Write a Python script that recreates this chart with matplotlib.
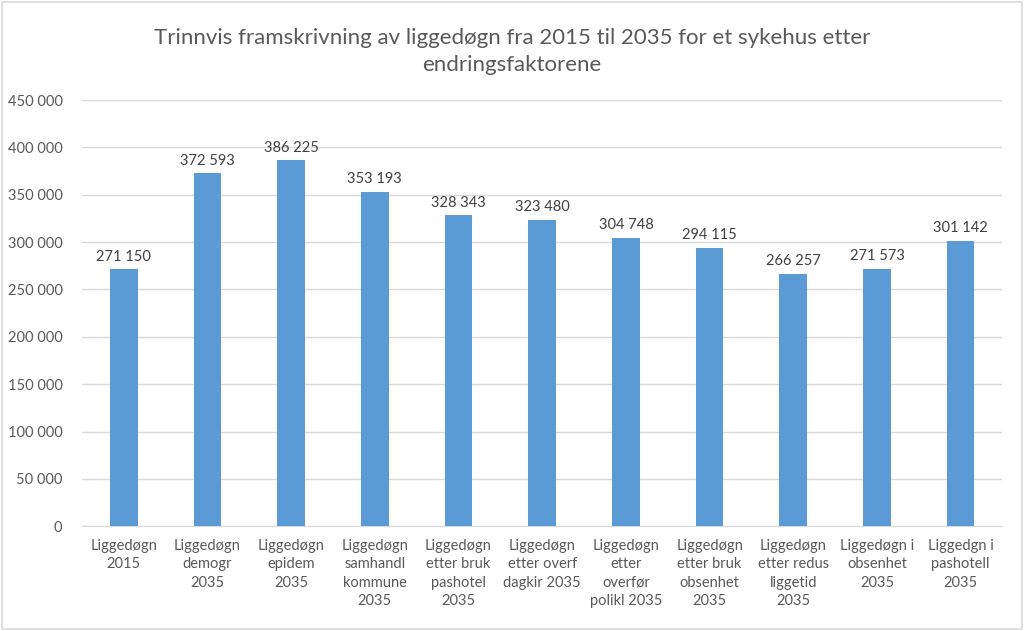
import matplotlib.pyplot as plt
from matplotlib.ticker import FuncFormatter
from matplotlib.patches import Rectangle

categories = [
    "Liggedøgn\n2015",
    "Liggedøgn\ndemogr\n2035",
    "Liggedøgn\nepidem\n2035",
    "Liggedøgn\nsamhandl\nkommune\n2035",
    "Liggedøgn\netter bruk\npashotel\n2035",
    "Liggedøgn\netter overf\ndagkir 2035",
    "Liggedøgn\netter\noverfør\npolikl 2035",
    "Liggedøgn\netter bruk\nobsenhet\n2035",
    "Liggedøgn\netter redus\nliggetid\n2035",
    "Liggedøgn i\nobsenhet\n2035",
    "Liggedgn i\npashotell\n2035",
]
values = [271150, 372593, 386225, 353193, 328343, 323480, 304748, 294115, 266257, 271573, 301142]
title = "Trinnvis framskrivning av liggedøgn fra 2015 til 2035 for et sykehus etter\nendringsfaktorene"

plt.rcParams['font.family'] = ['Lato', 'DejaVu Sans']
text_col = '#595959'


def fmt(v):
    return f"{int(v):,}".replace(",", " ")


fig = plt.figure(figsize=(10.24, 6.31), dpi=100)
ax = fig.add_axes([0.080, 0.166, 0.899, 0.6755])

x = range(len(values))
ax.bar(x, values, width=0.33, color='#5B9BD5', zorder=3)
for i, v in enumerate(values):
    ax.text(i, v + 6000, fmt(v), ha='center', va='bottom', fontsize=10.5, color='#404040')

ax.set_ylim(0, 450000)
ax.set_xlim(-0.5, len(values) - 0.5)
ax.set_yticks(range(0, 450001, 50000))
ax.yaxis.set_major_formatter(FuncFormatter(lambda v, p: fmt(v)))
ax.set_xticks(list(x))
ax.set_xticklabels(categories, fontsize=10.5, color=text_col, linespacing=1.4, va='top')
ax.tick_params(axis='y', labelsize=10.5, labelcolor=text_col, length=0, pad=14)
ax.tick_params(axis='x', length=0, pad=9)
ax.grid(axis='y', color='#D9D9D9', linewidth=1, zorder=0)
for s in ['top', 'right', 'left']:
    ax.spines[s].set_visible(False)
ax.spines['bottom'].set_color('#D9D9D9')

fig.text(0.5, 0.919, title, ha='center', va='center', fontsize=16, color=text_col, linespacing=1.45)
fig.patches.append(Rectangle((0.002, 0.003), 0.996, 0.994, transform=fig.transFigure,
                             fill=False, edgecolor='#D9D9D9', linewidth=1.2))

fig.savefig('out.png', dpi=100)
